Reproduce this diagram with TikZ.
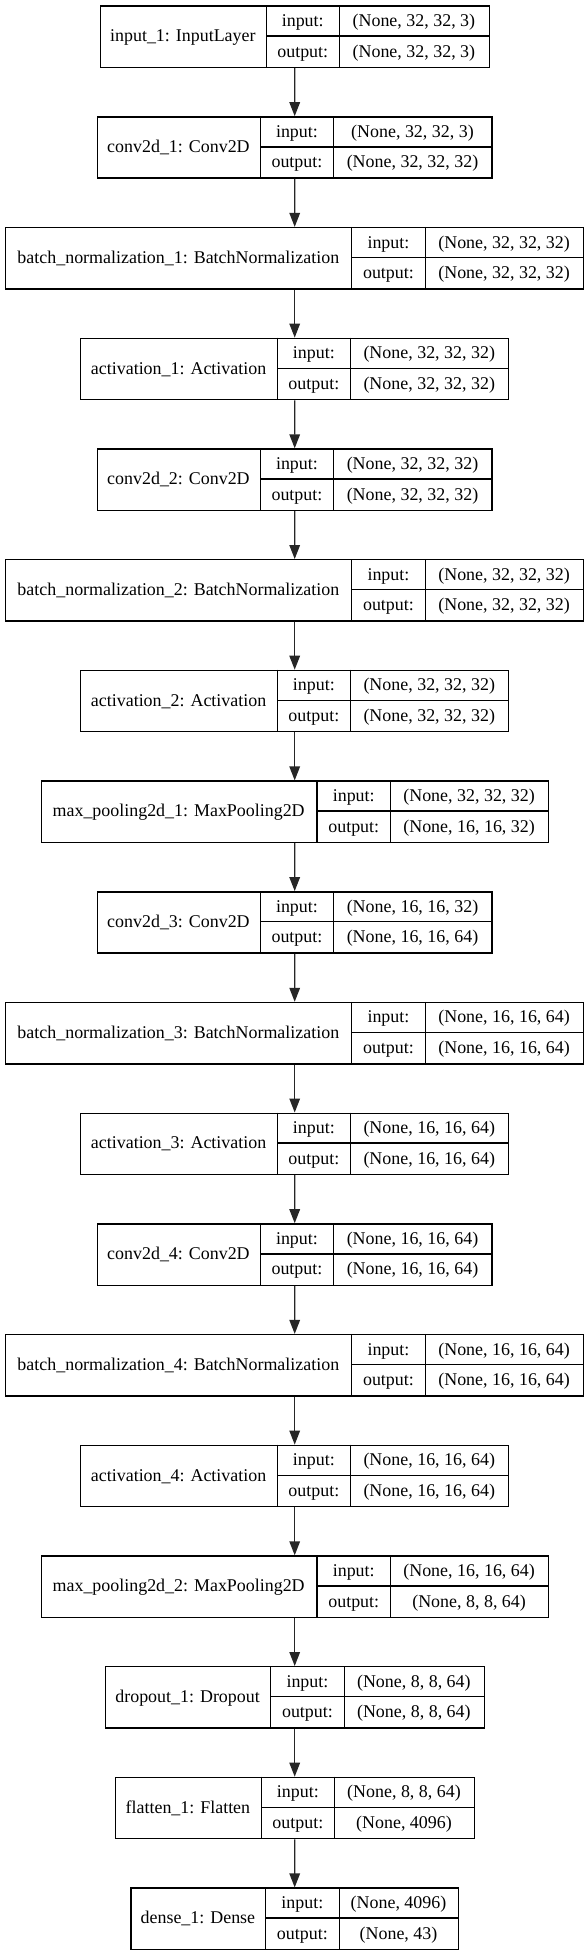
\documentclass[tikz,border=0pt]{standalone}
\usepackage{fontspec}
\setmainfont{Liberation Serif}
\usetikzlibrary{arrows.meta}
\tikzset{
  layerbox/.style={draw=black, line width=1.05pt, minimum height=45.975pt, inner sep=0pt, fill=white},
  divider/.style={draw=black, line width=1.05pt},
  txt/.style={anchor=base, inner sep=0pt, font=\fontsize{13.45pt}{16pt}\selectfont},
  conn/.style={draw=black!85, line width=1.05pt, -{Triangle[width=7.9pt,length=10.5pt]}}
}
\newcommand\kerasbox[9]{%
  \pgfmathsetmacro\kbTop{5.5+110.7*#2}%
  \pgfmathsetmacro\kbBot{\kbTop+61.3}%
  \pgfmathsetmacro\kbMid{\kbTop+30.65}%
  \pgfmathsetmacro\kbW{(#6-#3)*0.75}%
  \node[layerbox, minimum width=\kbW pt, anchor=north west] (#1) at (#3,\kbTop) {};
  \draw[divider] (#4,\kbTop) -- (#4,\kbBot) (#5,\kbTop) -- (#5,\kbBot) (#4,\kbMid) -- (#6,\kbMid);
  \node[txt] (#1-name) at ({(#3+#4)/2},{\kbMid+5.8}) {#7};
  \node[txt] (#1-inl) at ({(#4+#5)/2},{\kbTop+15.3+5.8}) {input:};
  \node[txt] (#1-outl) at ({(#4+#5)/2},{\kbMid+15.3+5.8}) {output:};
  \node[txt] (#1-in) at ({(#5+#6)/2},{\kbTop+15.3+5.8}) {#8};
  \node[txt] (#1-out) at ({(#5+#6)/2},{\kbMid+15.3+5.8}) {#9};
}
\begin{document}
\begin{tikzpicture}[x=0.75pt,y=-0.75pt]
\path[fill=white] (0,0) rectangle (588,1955);
\useasboundingbox (0,0) rectangle (588,1955);
\kerasbox{l0}{0}{99.5}{266.2}{339.3}{488.5}{input\_1: InputLayer}{(None, 32, 32, 3)}{(None, 32, 32, 3)}
\kerasbox{l1}{1}{96.7}{260.2}{333.7}{491.3}{conv2d\_1: Conv2D}{(None, 32, 32, 3)}{(None, 32, 32, 32)}
\kerasbox{l2}{2}{5}{351.7}{425.2}{583}{batch\_normalization\_1: BatchNormalization}{(None, 32, 32, 32)}{(None, 32, 32, 32)}
\kerasbox{l3}{3}{80}{277.2}{350.5}{508}{activation\_1: Activation}{(None, 32, 32, 32)}{(None, 32, 32, 32)}
\kerasbox{l4}{4}{96.7}{260.2}{333.7}{491.3}{conv2d\_2: Conv2D}{(None, 32, 32, 32)}{(None, 32, 32, 32)}
\kerasbox{l5}{5}{5}{351.7}{425.2}{583}{batch\_normalization\_2: BatchNormalization}{(None, 32, 32, 32)}{(None, 32, 32, 32)}
\kerasbox{l6}{6}{80}{277.2}{350.5}{508}{activation\_2: Activation}{(None, 32, 32, 32)}{(None, 32, 32, 32)}
\kerasbox{l7}{7}{40.5}{316.8}{390.7}{547.5}{max\_pooling2d\_1: MaxPooling2D}{(None, 32, 32, 32)}{(None, 16, 16, 32)}
\kerasbox{l8}{8}{96.7}{260.2}{333.7}{491.3}{conv2d\_3: Conv2D}{(None, 16, 16, 32)}{(None, 16, 16, 64)}
\kerasbox{l9}{9}{5}{351.7}{425.2}{583}{batch\_normalization\_3: BatchNormalization}{(None, 16, 16, 64)}{(None, 16, 16, 64)}
\kerasbox{l10}{10}{80}{277.2}{350.5}{508}{activation\_3: Activation}{(None, 16, 16, 64)}{(None, 16, 16, 64)}
\kerasbox{l11}{11}{96.7}{260.2}{333.7}{491.3}{conv2d\_4: Conv2D}{(None, 16, 16, 64)}{(None, 16, 16, 64)}
\kerasbox{l12}{12}{5}{351.7}{425.2}{583}{batch\_normalization\_4: BatchNormalization}{(None, 16, 16, 64)}{(None, 16, 16, 64)}
\kerasbox{l13}{13}{80}{277.2}{350.5}{508}{activation\_4: Activation}{(None, 16, 16, 64)}{(None, 16, 16, 64)}
\kerasbox{l14}{14}{40.5}{316.8}{390.7}{547.5}{max\_pooling2d\_2: MaxPooling2D}{(None, 16, 16, 64)}{(None, 8, 8, 64)}
\kerasbox{l15}{15}{104.5}{270.7}{344.2}{483.5}{dropout\_1: Dropout}{(None, 8, 8, 64)}{(None, 8, 8, 64)}
\kerasbox{l16}{16}{114.5}{261.3}{334.5}{473.5}{flatten\_1: Flatten}{(None, 8, 8, 64)}{(None, 4096)}
\kerasbox{l17}{17}{130.3}{265.5}{339.3}{457.7}{dense\_1: Dense}{(None, 4096)}{(None, 43)}
\foreach \a/\b in {l0/l1,l1/l2,l2/l3,l3/l4,l4/l5,l5/l6,l6/l7,l7/l8,l8/l9,l9/l10,l10/l11,l11/l12,l12/l13,l13/l14,l14/l15,l15/l16,l16/l17}
  \draw[conn] (\a.south) -- (\b.north);
\end{tikzpicture}
\end{document}
